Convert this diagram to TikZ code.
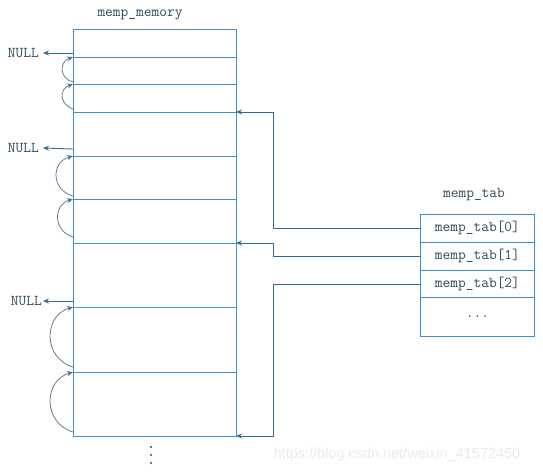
\documentclass[tikz,border=0pt]{standalone}
\usepackage{fontspec}
\setsansfont{Liberation Sans}
\usetikzlibrary{arrows.meta}
\definecolor{boxblue}{HTML}{3F8FCB}
\definecolor{lineteal}{HTML}{42A2B4}
\definecolor{lineblue2}{HTML}{3C98C0}
\definecolor{conn}{HTML}{2E6C96}
\definecolor{curvec}{HTML}{54708C}
\definecolor{txt}{HTML}{2F4A5A}
\tikzset{
  boxline/.style={draw=boxblue, line width=0.9pt},
  connline/.style={draw=conn, line width=0.9pt, -{Stealth[length=6pt,width=5pt]}},
  curveline/.style={draw=curvec, line width=0.7pt, -{Stealth[length=6pt,width=5pt,fill=conn]}},
  lbl/.style={text=txt, inner sep=0pt},
  tabcell/.style={draw=boxblue, line width=0.9pt, minimum width=114pt, text=txt, inner sep=0pt, anchor=north west},
}
\begin{document}
\begin{tikzpicture}[x=1pt,y=-1pt, font=\ttfamily\fontsize{15}{17}\selectfont]
\useasboundingbox[fill=white] (0,0) rectangle (543,473);
% memory block
\draw[boxline] (73,29) rectangle (236,436);
\foreach \yy in {57,84,112,156,199,372} \draw[boxline] (73,\yy) -- (236,\yy);
\draw[draw=lineblue2, line width=0.9pt] (73,243) -- (236,243);
\draw[draw=lineteal, line width=0.9pt] (73,307) -- (236,307);
\node[lbl] (memlbl) at (140,15) {memp\_memory};
% coordinates
\coordinate (w1) at (73,53);
\coordinate (w2) at (73,149);
\coordinate (w3) at (73,301);
\node[lbl, anchor=east] (n1) at (39,53) {NULL};
\node[lbl, anchor=east] (n2) at (39,148) {NULL};
\node[lbl, anchor=east] (n3) at (42,301) {NULL};
\draw[connline] (w1) -- ([xshift=4pt]n1.east);
\draw[connline] (w2) -- ([xshift=4pt]n2.east);
\draw[connline] (w3) -- ([xshift=1pt]n3.east);
% free-list curves
\draw[curveline] (73,82) .. controls (59,78) and (59,62) .. (73,57);
\draw[curveline] (73,109) .. controls (59,104) and (59,89) .. (73,84);
\draw[curveline] (73,196) .. controls (51,190) and (51,162) .. (73,156);
\draw[curveline] (73,237) .. controls (53,231) and (53,205) .. (73,199);
\draw[curveline] (73,367) .. controls (43,358) and (43,316) .. (73,307);
\draw[curveline] (73,432) .. controls (43,423) and (43,381) .. (73,372);
% memp_tab
\node[lbl] (tablbl) at (474,195) {memp\_tab};
\node[tabcell, minimum height=28pt] (t0) at (420,214) {memp\_tab[0]};
\node[tabcell, minimum height=28pt] (t1) at (420,242) {memp\_tab[1]};
\node[tabcell, minimum height=27pt] (t2) at (420,270) {memp\_tab[2]};
\node[tabcell, minimum height=39pt] (t3) at (420,297) {...};
% targets
\coordinate (m1) at (236,112);
\coordinate (m2) at (236,243);
\coordinate (m3) at (236,436);
\draw[connline] (t0.west) -- ++(-147,0) |- (m1);
\draw[connline] (t1.west) -- ++(-147,0) |- (m2);
\draw[connline] (t2.west) -- ++(-147,0) |- (m3);
% continuation dots
\foreach \yy in {447,455,463} \fill[txt] (151,\yy) circle (1.1pt);
% watermark
\node[text=black!8, font=\sffamily\fontsize{14.5}{16}\selectfont, inner sep=0pt] (wm) at (397,455) {https://blog.csdn.net/weixin\_41572450};
\end{tikzpicture}
\end{document}
